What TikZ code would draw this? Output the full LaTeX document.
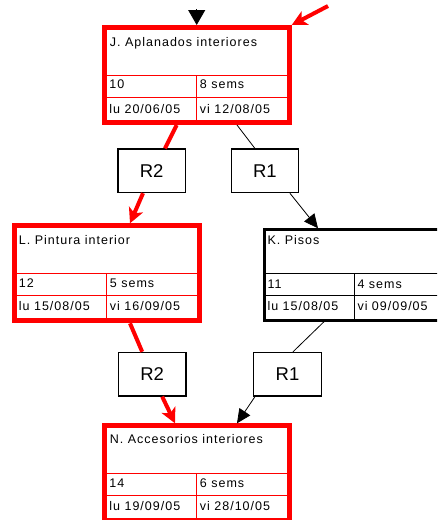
\documentclass[tikz,border=0pt]{standalone}
\usepackage{fontspec}
\setmainfont{Liberation Sans}
\newfontfamily\boxfont[LetterSpace=8]{Liberation Sans}
\usetikzlibrary{arrows.meta,calc}
\newcommand\redgrid[1]{%
  \draw[gridline] ($(#1.north west)+(5,50.5)$) -- ($(#1.north east)+(-5,50.5)$);
  \draw[gridline] ($(#1.north west)+(5,72.3)$) -- ($(#1.north east)+(-5,72.3)$);
  \draw[gridline] ($(#1.north west)+(95,50.5)$) -- ($(#1.south west)+(95,-5)$);}
\begin{document}
\begin{tikzpicture}[x=1pt,y=-1pt,
  redframe/.style={draw=red, line width=5pt, minimum width=185pt, minimum height=95pt, inner sep=0pt},
  blackframe/.style={draw=black, line width=3pt, minimum width=187pt, minimum height=90.4pt, inner sep=0pt},
  relbox/.style={draw=black, line width=1.3pt, minimum width=67.5pt, minimum height=43.5pt, inner sep=0pt, font=\fontsize{18.5}{20}\selectfont},
  gridline/.style={draw=red, line width=1pt},
  kgrid/.style={draw=black, line width=1pt},
  txt/.style={anchor=base west, inner sep=0pt, font=\boxfont\fontsize{12.5}{14}\selectfont},
  redcon/.style={draw=red, line width=4pt, -{Stealth[length=15pt,width=15pt,inset=4pt]}},
  blkcon/.style={draw=black, line width=0.8pt, -{Triangle[length=14pt,width=13pt]}},
  bigblk/.style={draw=black, line width=0.8pt, -{Triangle[length=15pt,width=17pt]}}
]
\clip (0,0) rectangle (437,520);
\fill[white] (0,0) rectangle (437,520);

% task boxes
\node[redframe] (J) at (196.7,75) {};
\node[redframe] (L) at (106.7,273.3) {};
\node[redframe] (N) at (196.7,473.3) {};
\node[blackframe] (K) at (358.3,275) {};

\redgrid{J}
\redgrid{L}
\redgrid{N}
\draw[kgrid] ($(K.north west)+(3,45)$) -- ($(K.north east)+(-3,45)$);
\draw[kgrid] ($(K.north west)+(3,66.7)$) -- ($(K.north east)+(-3,66.7)$);
\draw[kgrid] ($(K.north west)+(90.7,45)$) -- ($(K.south west)+(90.7,-3)$);

% texts J
\node[txt] (jt) at ($(J.north west)+(8,21.5)$) {J. Aplanados interiores};
\node[txt] (j1) at ($(J.north west)+(7.5,63)$) {10};
\node[txt] (j2) at ($(J.north west)+(98,63)$) {8 sems};
\node[txt] (j3) at ($(J.north west)+(7.5,88)$) {lu 20/06/05};
\node[txt] (j4) at ($(J.north west)+(98,88)$) {vi 12/08/05};
% texts L
\node[txt] (lt) at ($(L.north west)+(7,21)$) {L. Pintura interior};
\node[txt] (l1) at ($(L.north west)+(7,64.5)$) {12};
\node[txt] (l2) at ($(L.north west)+(98,64.5)$) {5 sems};
\node[txt] (l3) at ($(L.north west)+(7,87.4)$) {lu 15/08/05};
\node[txt] (l4) at ($(L.north west)+(98,87.4)$) {vi 16/09/05};
% texts N
\node[txt] (nt) at ($(N.north west)+(8,20.5)$) {N. Accesorios interiores};
\node[txt] (n1) at ($(N.north west)+(7.5,64)$) {14};
\node[txt] (n2) at ($(N.north west)+(98,64)$) {6 sems};
\node[txt] (n3) at ($(N.north west)+(7.5,87)$) {lu 19/09/05};
\node[txt] (n4) at ($(N.north west)+(98,87)$) {vi 28/10/05};
% texts K
\node[txt] (kt) at ($(K.north west)+(4,16)$) {K. Pisos};
\node[txt] (k1) at ($(K.north west)+(4,60)$) {11};
\node[txt] (k2) at ($(K.north west)+(94,60)$) {4 sems};
\node[txt] (k3) at ($(K.north west)+(4,82.4)$) {lu 15/08/05};
\node[txt] (k4) at ($(K.north west)+(94,82.4)$) {vi 09/09/05};

% relation boxes
\node[relbox] (R2a) at (151.7,170.8) {R2};
\node[relbox] (R1a) at (264.9,170.8) {R1};
\node[relbox] (R2b) at (152.2,374.2) {R2};
\node[relbox] (R1b) at (287.5,374.2) {R1};

% free ends at the top
\coordinate (topin) at (196.7,9);
\coordinate (redin) at (328,6);

% connectors
\draw[bigblk] (topin) -- (J.north);
\draw[redcon] (redin) -- (J.north east);

\draw[redcon, -] ([xshift=-20pt]J.south) -- ([xshift=13.3pt]R2a.north);
\draw[redcon] ([xshift=-8.7pt]R2a.south) -- ([xshift=23.3pt]L.north);
\draw[blkcon, -] ([xshift=40.3pt]J.south) -- ([xshift=-10pt]R1a.north);
\draw[blkcon] ([xshift=25pt]R1a.south) -- ([xshift=54.7pt]K.north west);

\draw[redcon, -] ([xshift=23.3pt]L.south) -- ([xshift=-10pt]R2b.north);
\draw[redcon] ([xshift=10pt]R2b.south) -- ([xshift=-21.7pt]N.north);
\draw[blkcon, -] ([xshift=60.7pt]K.south west) -- ([xshift=5.5pt]R1b.north);
\draw[blkcon] ([xshift=-32.5pt]R1b.south) -- ([xshift=40.3pt]N.north);
\end{tikzpicture}
\end{document}
